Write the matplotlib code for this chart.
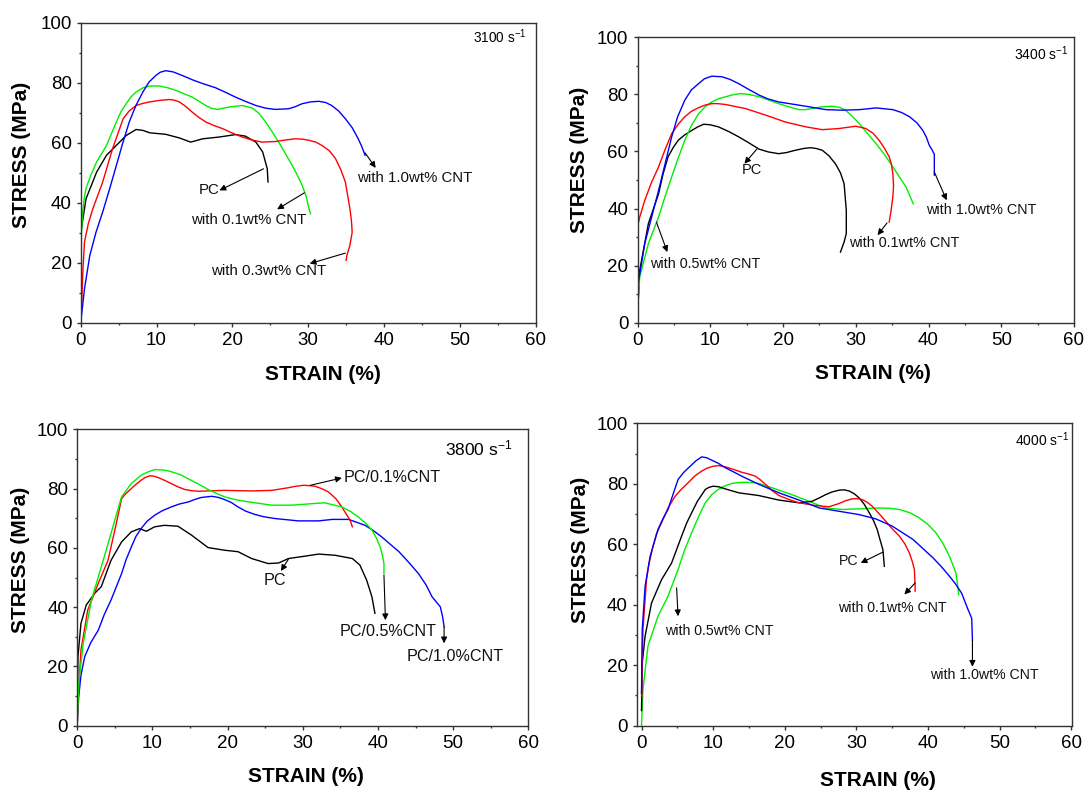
import matplotlib
matplotlib.use("Agg")
import matplotlib.pyplot as plt

plt.rcParams['font.family'] = ['Liberation Sans', 'DejaVu Sans']
plt.rcParams['mathtext.fontset'] = 'custom'
plt.rcParams['mathtext.rm'] = 'Liberation Sans'
plt.rcParams['mathtext.default'] = 'regular'

# ---- 3100 s-1 ----
r3100_pc_strain = [0, 0.7, 2.1, 3.4, 4.7, 6.0, 7.3, 8.2, 9.1, 11.2, 13.0, 14.5, 16.1, 18.3, 20.4, 21.7, 23.1, 24.0, 24.6, 24.7]
r3100_pc_stress = [29.8, 41.3, 50.2, 55.8, 59.1, 62.4, 64.4, 64.1, 63.3, 62.8, 61.6, 60.2, 61.3, 61.9, 62.7, 62.2, 60.2, 56.9, 51.3, 46.9]
r3100_01_strain = [0, 0.05, 0.1, 0.3, 0.5, 0.7, 1.3, 2.1, 2.8, 3.4, 4.0, 4.7, 5.3, 6.0, 6.6, 7.3, 8.2, 9.1, 10.4, 11.5, 12.6, 14.7, 16.5, 17.2, 18.0, 19.6, 21.3, 22.6, 23.5, 24.4, 25.2, 26.1, 27.0, 27.9, 28.6, 29.2, 29.7, 30.1, 30.3]
r3100_01_stress = [5, 20, 30, 38, 42, 44.7, 49, 53.6, 56.5, 59.1, 62.7, 66.9, 70.3, 73.0, 75.2, 76.9, 78.3, 78.9, 78.9, 78.3, 77.4, 75.2, 72.4, 71.5, 71.1, 71.9, 72.4, 71.6, 69.8, 66.9, 63.8, 60.2, 56.3, 52.4, 49.0, 45.8, 42.4, 38.0, 36.3]
r3100_03_strain = [0, 0.1, 0.3, 0.5, 1.0, 1.6, 2.9, 4.2, 5.6, 6.4, 7.3, 8.2, 9.1, 10.4, 11.7, 12.3, 13.0, 13.8, 14.7, 15.6, 16.5, 17.6, 18.7, 20.0, 21.3, 22.6, 23.9, 25.7, 27.0, 28.3, 29.2, 30.1, 31.0, 31.8, 32.8, 33.6, 34.3, 34.9, 35.2, 35.5, 35.7, 35.8, 35.5, 35.1, 35.0]
r3100_03_stress = [0, 4.7, 18, 26.9, 33, 38.0, 46.9, 58.0, 68.0, 70.6, 72.4, 73.1, 73.6, 74.1, 74.4, 74.2, 73.6, 72.2, 70.2, 68.4, 66.9, 65.7, 64.7, 63.2, 61.9, 60.9, 60.2, 60.4, 60.9, 61.3, 61.2, 60.8, 60.2, 59.1, 57.3, 54.7, 51.0, 46.9, 42.5, 38.0, 34.0, 30.2, 25.8, 22.4, 20.8]
r3100_10_strain = [0, 0.5, 1.2, 2.0, 2.9, 3.8, 4.7, 5.5, 6.4, 7.3, 8.2, 9.0, 9.9, 10.5, 11.2, 12.2, 13.4, 14.8, 16.1, 17.8, 19.1, 20.4, 21.8, 23.1, 24.4, 25.7, 27.4, 28.3, 29.2, 30.3, 31.4, 32.3, 33.1, 34.0, 34.9, 35.8, 36.6, 37.1, 37.5]
r3100_10_stress = [0, 11.3, 22.4, 30.0, 36.9, 44.5, 52.4, 59.5, 66.9, 72.5, 76.9, 80.2, 82.4, 83.5, 84.0, 83.6, 82.4, 80.9, 79.7, 78.3, 76.8, 75.2, 73.7, 72.4, 71.5, 71.1, 71.3, 72.0, 73.0, 73.6, 73.8, 73.4, 72.4, 70.6, 68.0, 65.0, 61.3, 58.5, 55.8]

# ---- 3400 s-1 ----
r3400_pc_strain = [0, 0.3, 1.5, 2.9, 3.5, 4.2, 4.9, 5.6, 6.5, 7.5, 8.3, 9.1, 10.0, 11.1, 12.5, 13.9, 15.3, 16.7, 18.0, 19.4, 20.5, 21.7, 22.8, 23.8, 24.6, 25.4, 26.3, 27.2, 27.9, 28.4, 28.7, 28.7, 28.4, 27.9]
r3400_pc_stress = [2, 18.4, 34.8, 45.2, 52.0, 58.1, 61.3, 63.9, 65.8, 67.4, 68.6, 69.5, 69.3, 68.6, 67.0, 65.1, 63.0, 60.8, 59.8, 59.2, 59.6, 60.4, 61.0, 61.3, 61.0, 60.4, 58.5, 55.7, 52.5, 48.7, 39.4, 31.3, 28.3, 24.8]
r3400_01_strain = [0, 0.3, 1.0, 1.9, 2.9, 3.8, 4.7, 5.6, 6.5, 7.4, 8.4, 9.3, 10.2, 11.0, 12.1, 14.8, 17.6, 20.3, 23.1, 25.4, 27.7, 30.0, 31.4, 32.4, 33.2, 33.9, 34.6, 34.9, 35.1, 35.2, 35.1, 34.8, 34.6]
r3400_01_stress = [33.6, 37.0, 42.9, 49.0, 54.6, 60.7, 66.2, 69.5, 72.1, 74.0, 75.3, 76.2, 76.7, 76.7, 76.4, 75.0, 72.7, 70.3, 68.6, 67.6, 68.0, 68.8, 68.0, 66.3, 63.9, 61.3, 58.1, 55.5, 52.2, 48.0, 44.1, 38.3, 35.3]
r3400_05_strain = [0, 0.3, 1.5, 2.9, 3.8, 4.7, 5.6, 6.5, 7.4, 8.4, 9.3, 10.2, 11.1, 12.1, 13.1, 14.1, 15.4, 16.7, 18.0, 19.4, 20.8, 22.2, 23.1, 24.0, 25.4, 26.8, 27.8, 28.6, 29.5, 30.5, 31.6, 32.8, 34.0, 35.1, 36.0, 36.9, 37.9]
r3400_05_stress = [4.4, 16.1, 27.8, 37.1, 44.3, 51.1, 57.7, 63.9, 69.0, 73.2, 75.6, 77.3, 78.4, 79.1, 79.8, 80.2, 79.9, 79.1, 78.0, 76.7, 75.6, 74.6, 74.6, 75.0, 75.6, 75.8, 75.4, 74.4, 72.3, 69.7, 66.3, 62.7, 58.7, 54.6, 51.1, 47.6, 41.7]
r3400_10_strain = [0, 0.1, 1.0, 2.9, 4.7, 5.5, 6.5, 7.4, 8.4, 9.2, 10.2, 11.6, 12.7, 13.9, 15.2, 16.7, 18.0, 19.4, 23.1, 25.9, 28.2, 30.5, 32.8, 35.1, 36.3, 37.4, 38.4, 39.2, 39.7, 40.1, 40.5, 40.8, 40.8]
r3400_10_stress = [0, 13.8, 27.8, 46.4, 65.1, 72.0, 77.9, 81.5, 83.7, 85.4, 86.3, 86.1, 85.2, 83.7, 81.8, 79.7, 78.3, 77.3, 75.8, 74.6, 74.4, 74.6, 75.2, 74.6, 73.6, 72.1, 70.0, 67.4, 65.0, 62.2, 60.5, 59.0, 51.7]

# ---- 3800 s-1 ----
r3800_pc_strain = [0, 0.1, 0.5, 1.2, 2.3, 3.2, 4.5, 5.9, 7.2, 8.3, 9.2, 10.3, 11.6, 13.4, 15.2, 17.4, 19.6, 21.4, 23.2, 25.4, 26.8, 28.1, 30.3, 32.1, 34.3, 36.6, 37.6, 38.5, 39.2, 39.6]
r3800_pc_stress = [0, 23.3, 34.5, 40.7, 44.6, 46.9, 55.8, 62.0, 65.4, 66.5, 65.6, 67.1, 67.6, 67.3, 64.3, 60.1, 59.2, 58.7, 56.4, 54.7, 54.9, 56.4, 57.2, 57.9, 57.5, 56.4, 54.2, 49.1, 43.5, 37.9]
r3800_01_strain = [0, 0.1, 0.5, 1.4, 2.8, 4.1, 5.2, 5.9, 6.5, 7.2, 7.8, 8.5, 9.0, 9.6, 10.2, 10.8, 11.6, 12.5, 13.4, 14.3, 15.2, 16.1, 19.6, 23.2, 25.9, 28.1, 29.1, 30.1, 30.9, 31.6, 32.5, 33.4, 34.4, 35.2, 36.3, 36.6]
r3800_01_stress = [0, 7.5, 25.5, 39.0, 48.0, 55.8, 68.2, 76.6, 78.4, 80.0, 81.4, 82.8, 83.7, 84.3, 84.2, 83.7, 82.8, 81.7, 80.6, 79.7, 79.3, 79.1, 79.4, 79.2, 79.4, 80.3, 80.8, 81.1, 81.0, 80.8, 80.0, 78.9, 76.6, 73.8, 69.3, 67.1]
r3800_05_strain = [0, 0.2, 0.8, 1.9, 3.6, 5.0, 5.9, 7.2, 8.5, 9.4, 10.3, 11.2, 12.1, 13.0, 13.9, 14.7, 15.6, 16.5, 17.4, 18.5, 19.6, 21.0, 22.8, 25.9, 28.5, 31.2, 32.9, 35.2, 36.4, 37.4, 38.4, 39.2, 39.8, 40.3, 40.6, 40.8, 40.8]
r3800_05_stress = [0, 14.3, 27.8, 42.4, 57.0, 69.3, 77.2, 81.7, 84.5, 85.6, 86.4, 86.3, 86.0, 85.3, 84.5, 83.4, 82.2, 81.0, 79.7, 78.4, 77.2, 76.3, 75.5, 74.4, 74.4, 74.9, 75.2, 73.8, 72.2, 70.4, 68.3, 66.0, 63.3, 60.3, 57.5, 54.7, 51.3]
r3800_10_strain = [0, 0.2, 0.5, 1.0, 1.8, 2.8, 3.6, 4.5, 5.9, 6.5, 7.2, 7.8, 8.5, 9.3, 10.3, 11.3, 12.5, 13.6, 14.8, 15.6, 16.5, 17.9, 18.8, 19.6, 20.5, 21.4, 22.4, 23.6, 24.8, 26.3, 29.4, 32.1, 33.9, 36.1, 38.3, 39.4, 40.5, 41.6, 42.8, 44.1, 45.4, 46.4, 47.2, 48.3, 48.6, 48.8]
r3800_10_stress = [0, 9.8, 17.0, 23.3, 28.0, 32.2, 37.5, 42.4, 51.3, 56.0, 60.3, 63.8, 66.5, 69.0, 71.0, 72.5, 73.8, 74.8, 75.5, 76.3, 77.0, 77.4, 77.0, 76.3, 75.3, 73.8, 72.4, 71.3, 70.5, 69.9, 69.1, 69.1, 69.6, 69.6, 67.6, 65.8, 63.7, 61.3, 58.7, 55.1, 51.3, 47.5, 43.5, 40.1, 36.8, 33.4]

# ---- 4000 s-1 ----
r4000_pc_strain = [0, 0.1, 0.5, 1.4, 2.8, 4.2, 5.6, 6.3, 7.0, 7.8, 8.9, 9.4, 10.0, 10.8, 11.7, 13.6, 16.4, 19.2, 22.0, 23.8, 24.8, 25.7, 26.6, 27.6, 28.3, 29.0, 29.7, 30.4, 31.1, 31.8, 32.4, 32.9, 33.3, 33.7, 33.8, 33.9]
r4000_pc_stress = [5, 20.7, 29.6, 40.6, 48.3, 53.8, 62.7, 67.0, 70.4, 74.2, 78.1, 78.8, 79.2, 79.0, 78.3, 77.0, 76.1, 74.6, 73.7, 74.2, 75.3, 76.4, 77.3, 77.9, 78.0, 77.6, 76.7, 75.3, 73.2, 70.4, 67.8, 64.9, 61.5, 58.2, 55.5, 52.7]
r4000_01_strain = [0, 0.2, 0.7, 1.0, 1.6, 2.1, 2.8, 3.7, 4.7, 5.6, 6.5, 7.4, 8.4, 9.2, 10.0, 10.8, 11.7, 12.8, 14.0, 15.0, 15.9, 16.6, 17.3, 18.2, 19.2, 20.6, 22.0, 24.3, 26.2, 27.6, 28.5, 29.4, 30.0, 30.8, 31.5, 32.2, 33.1, 34.1, 35.0, 36.0, 36.8, 37.4, 37.8, 38.1, 38.2, 38.2]
r4000_01_stress = [9.7, 31.8, 48.3, 53.0, 59.3, 63.5, 67.1, 72.0, 75.9, 78.3, 80.3, 82.5, 84.2, 85.2, 85.8, 86.0, 85.6, 84.8, 83.8, 83.2, 82.5, 81.3, 79.8, 77.8, 76.1, 74.8, 73.7, 72.8, 72.4, 73.5, 74.4, 75.0, 75.1, 74.8, 73.9, 72.6, 70.3, 67.6, 65.1, 62.7, 60.0, 57.1, 54.3, 51.6, 46.1, 44.5]
r4000_05_strain = [0, 0.2, 0.9, 2.3, 3.7, 5.1, 6.0, 7.0, 8.0, 8.9, 9.8, 10.7, 11.6, 12.6, 13.5, 14.5, 15.5, 16.4, 18.7, 21.0, 23.4, 25.7, 28.0, 30.4, 33.2, 34.6, 36.0, 37.5, 38.8, 40.0, 41.1, 42.1, 43.0, 43.9, 44.3]
r4000_05_stress = [0, 11.9, 26.3, 36.2, 42.8, 51.6, 58.0, 63.8, 69.3, 73.7, 76.4, 78.1, 79.3, 80.1, 80.4, 80.5, 80.4, 80.1, 78.3, 76.4, 74.2, 72.0, 71.5, 71.7, 72.0, 71.9, 71.5, 70.4, 68.7, 66.5, 63.8, 60.2, 56.0, 50.5, 43.3]
r4000_10_strain = [0, 0.1, 0.5, 1.2, 2.3, 3.0, 3.7, 4.4, 5.1, 5.9, 6.8, 7.6, 8.4, 9.1, 9.8, 10.7, 11.7, 12.8, 14.0, 16.4, 19.2, 22.0, 24.8, 27.6, 30.4, 32.7, 35.0, 37.9, 40.7, 41.9, 43.0, 43.8, 44.7, 45.5, 46.1, 46.2]
r4000_10_stress = [10.8, 31.8, 46.1, 56.0, 64.9, 68.5, 71.5, 76.5, 81.4, 83.8, 85.8, 87.6, 88.9, 88.6, 87.8, 86.8, 85.3, 84.0, 82.5, 79.8, 77.0, 74.6, 72.0, 70.9, 69.8, 68.4, 66.0, 61.6, 55.5, 52.5, 49.4, 47.0, 43.8, 38.9, 35.5, 28.3]

RED, GREEN, BLUE = '#ff0000', '#00ee00', '#0000ff'
W, H = 1087, 790

panels = [
    dict(rect=(80.7, 22.7, 535.7, 322.7), xlim=(0, 60), rate='3100 s$^{-1}$', rate_pos=(0.980, 0.953), rate_fs=9.8,
         xlab=(0.532, -0.174), ylab=(-0.131, 0.559),
         curves=[(r3100_pc_strain, r3100_pc_stress, 'k'), (r3100_01_strain, r3100_01_stress, GREEN),
                 (r3100_03_strain, r3100_03_stress, RED), (r3100_10_strain, r3100_10_stress, BLUE)],
         notes=[('PC', (16.9, 44.4), (24.1, 51.3), (18.3, 44.1), 10.8),
                ('with 0.1wt% CNT', (22.2, 34.4), (29.5, 43.3), (25.9, 37.8), 10.8),
                ('with 0.3wt% CNT', (24.8, 17.1), (34.9, 23.2), (30.2, 19.7), 10.8),
                ('with 1.0wt% CNT', (44.0, 48.2), (37.5, 56.6), (38.9, 51.6), 10.8)]),
    dict(rect=(637.5, 37.0, 1074.0, 323.0), xlim=(0, 60), rate='3400 s$^{-1}$', rate_pos=(0.988, 0.942), rate_fs=10,
         xlab=(0.539, -0.175), ylab=(-0.133, 0.569),
         curves=[(r3400_pc_strain, r3400_pc_stress, 'k'), (r3400_05_strain, r3400_05_stress, GREEN),
                 (r3400_01_strain, r3400_01_stress, RED), (r3400_10_strain, r3400_10_stress, BLUE)],
         notes=[('PC', (15.7, 53.6), (16.4, 60.8), (14.7, 55.7), 10.5),
                ('with 0.5wt% CNT', (9.3, 20.8), (2.6, 35.3), (4.1, 24.8), 10.4),
                ('with 0.1wt% CNT', (36.6, 27.8), (34.3, 35.0), (33.0, 30.7), 10.4),
                ('with 1.0wt% CNT', (47.3, 39.6), (40.8, 52.8), (42.5, 42.9), 10.4)]),
    dict(rect=(77.2, 429.3, 528.3, 725.7), xlim=(0, 60), rate='3800 s$^{-1}$', rate_pos=(0.965, 0.936), rate_fs=12.5,
         xlab=(0.507, -0.172), ylab=(-0.125, 0.559),
         curves=[(r3800_pc_strain, r3800_pc_stress, 'k'), (r3800_10_strain, r3800_10_stress, BLUE),
                 (r3800_01_strain, r3800_01_stress, RED), (r3800_05_strain, r3800_05_stress, GREEN)],
         notes=[('PC/0.1%CNT', (41.9, 83.7), (31.0, 81.1), (35.2, 83.6), 11.6),
                ('PC', (26.3, 49.1), (28.1, 56.2), (27.1, 52.2), 11.6),
                ('PC/0.5%CNT', (41.4, 31.8), (40.8, 50.8), (41.0, 35.6), 11.6),
                ('PC/1.0%CNT', (50.3, 23.3), (48.8, 33.4), (48.8, 27.8), 11.6)]),
    dict(rect=(637.0, 423.3, 1072.0, 725.7), xlim=(-0.63, 60.1), rate='4000 s$^{-1}$', rate_pos=(0.995, 0.945), rate_fs=10,
         xlab=(0.554, -0.180), ylab=(-0.131, 0.581),
         curves=[(r4000_05_strain, r4000_05_stress, GREEN), (r4000_pc_strain, r4000_pc_stress, 'k'),
                 (r4000_01_strain, r4000_01_stress, RED), (r4000_10_strain, r4000_10_stress, BLUE)],
         notes=[('PC', (28.9, 54.4), (33.7, 57.4), (30.6, 53.8), 10.2),
                ('with 0.1wt% CNT', (35.0, 38.9), (38.2, 47.2), (36.7, 43.4), 10.2),
                ('with 0.5wt% CNT', (10.8, 31.2), (4.9, 45.6), (5.1, 36.2), 10.2),
                ('with 1.0wt% CNT', (47.8, 16.8), (46.2, 28.4), (46.2, 19.5), 10.2)]),
]

fig = plt.figure(figsize=(W / 100, H / 100), dpi=100)

for p in panels:
    x0, y0, x1, y1 = p['rect']
    ax = fig.add_axes([x0 / W, 1 - y1 / H, (x1 - x0) / W, (y1 - y0) / H])
    for sx, sy, c in p['curves']:
        ax.plot(sx, sy, color=c, lw=1.0)
    for txt, tpos, tail, head, fs in p['notes']:
        ax.annotate('', xy=head, xytext=tail,
                    arrowprops=dict(arrowstyle='-|>', color='k', lw=0.8, mutation_scale=9, shrinkA=0, shrinkB=0))
        ax.text(tpos[0], tpos[1], txt, ha='center', va='center', fontsize=fs, color='#111111')
    ax.text(p['rate_pos'][0], p['rate_pos'][1], p['rate'], transform=ax.transAxes,
            ha='right', va='center', fontsize=p['rate_fs'])
    ax.set_xlim(*p['xlim'])
    ax.set_ylim(0, 100)
    ax.set_xticks(range(0, 61, 10))
    ax.set_yticks(range(0, 101, 20))
    ax.set_xticks(range(5, 60, 10), minor=True)
    ax.set_yticks(range(10, 100, 20), minor=True)
    ax.tick_params(which='major', direction='out', length=3, width=1, labelsize=13.5, colors='#333333', labelcolor='k')
    ax.tick_params(which='minor', direction='out', length=1.5, width=1, colors='#333333')
    for s in ax.spines.values():
        s.set_color('#333333')
        s.set_linewidth(1.0)
    ax.set_xlabel('STRAIN (%)', fontsize=15, fontweight='bold', va='center')
    ax.set_ylabel('STRESS (MPa)', fontsize=15, fontweight='bold', va='center')
    ax.xaxis.set_label_coords(*p['xlab'])
    ax.yaxis.set_label_coords(*p['ylab'])

plt.savefig('out.png', dpi=100)
